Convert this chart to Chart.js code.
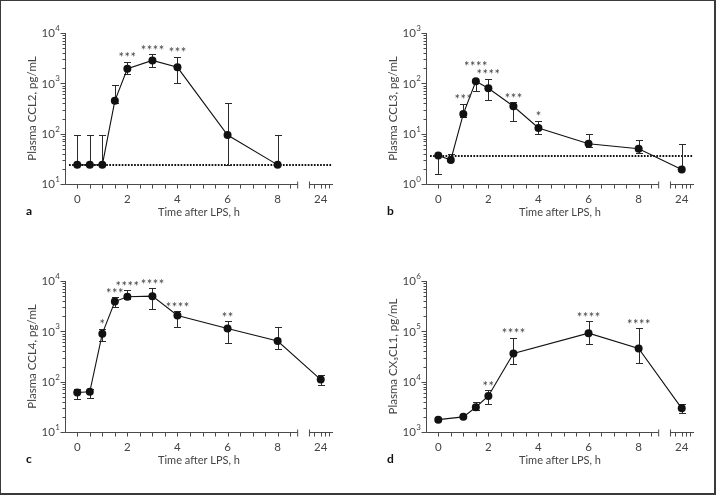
<!DOCTYPE html>
<html>
<head>
<meta charset="utf-8">
<script src="https://cdn.jsdelivr.net/npm/chart.js@4.4.1/dist/chart.umd.min.js"></script>
<style>
  html, body { margin: 0; padding: 0; background: #fff; }
  #fig { position: relative; width: 716px; height: 495px; overflow: hidden; }
  .panel { position: absolute; }
  #frame { position: absolute; left: 0; top: 0; width: 716px; height: 495px; box-sizing: border-box;
           border: 1px solid #3a3a3a; border-right-width: 2px; border-bottom-width: 2px; pointer-events: none; }
</style>
</head>
<body>
<div id="fig">
  <canvas id="panelA" class="panel" width="355" height="247" style="left:0;top:0"></canvas>
  <canvas id="panelB" class="panel" width="355" height="247" style="left:361px;top:0"></canvas>
  <canvas id="panelC" class="panel" width="355" height="247" style="left:0;top:248px"></canvas>
  <canvas id="panelD" class="panel" width="355" height="247" style="left:361px;top:248px"></canvas>
  <div id="frame"></div>
</div>
<script>
// a: CCL2
const timesA = [0, 0.5, 1, 1.5, 2, 3, 4, 6, 8];
const ccl2 = [24, 24, 24, 450, 1950, 2850, 2080, 94, 24];
const ccl2Hi = [95, 95, 95, 910, 2700, 3800, 3400, 400, 95];
const ccl2Lo = [null, null, null, 400, 1550, 2120, 1000, 24, null];
const ccl2Stars = ['', '', '', '', '***', '****', '***', '', ''];
const ccl2Limit = 24;

// b: CCL3
const timesB = [0, 0.5, 1, 1.5, 2, 3, 4, 6, 8, 24];
const ccl3 = [3.67, 3.0, 24.7, 110, 80, 35, 13, 6.3, 5.0, 1.95];
const ccl3Hi = [null, 3.95, 39, null, 122, 42, 18, 10, 7.5, 6.3];
const ccl3Lo = [1.56, null, 21.5, 72, 45.7, 18, 9.9, 5.5, 4.2, null];
const ccl3Stars = ['', '', '***', '****', '****', '***', '*', '', '', ''];
const ccl3Limit = 3.67;

// c: CCL4
const timesC = [0, 0.5, 1, 1.5, 2, 3, 4, 6, 8, 24];
const ccl4 = [61, 63, 900, 3900, 4850, 5000, 2070, 1140, 640, 110];
const ccl4Hi = [73, 73, 1120, 4800, 6600, 7100, 2500, 1580, 1200, 138];
const ccl4Lo = [45.5, 47, 640, 3050, 4300, 2800, 1200, 590, 445, 84];
const ccl4Stars = ['', '', '*', '***', '****', '****', '****', '**', '', ''];

// d: CX3CL1
const timesD = [0, 1, 1.5, 2, 3, 6, 8, 24];
const cx3cl1 = [1760, 2000, 3100, 5200, 36300, 92000, 45700, 2950];
const cx3cl1Hi = [null, null, 3970, 6800, 74500, 160000, 116000, 3670];
const cx3cl1Lo = [null, null, 2750, 3670, 22600, 55000, 24000, 2350];
const cx3cl1Stars = ['', '', '', '**', '****', '****', '****', ''];

const xTickHours = [0, 2, 4, 6, 8, 24];
const xTickLabels = ['0', '2', '4', '6', '8', '24'];

// broken time axis: 0-8 h, then a short segment holding 24 h
const POS_24 = 9.72, BREAK_L = 8.8, BREAK_R = 9.27;
const toAxis = t => (t === 24 ? POS_24 : t);
const X_TICKS = [];
for (let h = 0; h <= 8.5; h += 0.5) X_TICKS.push(h);
X_TICKS.push(POS_24 - 0.26, POS_24, POS_24 + 0.17, POS_24 + 0.34);

const FONT = 'Lato, "Open Sans", sans-serif';
const INK = '#111';
const GREY = '#444';

function labelFor(v) {
  const i = xTickHours.findIndex(h => Math.abs(toAxis(h) - v) < 1e-6);
  return i >= 0 ? xTickLabels[i] : '';
}

const panelAxes = {
  id: 'panelAxes',
  beforeDatasetsDraw(chart, args, o) {
    const { ctx, chartArea: a, scales: { x, y } } = chart;
    ctx.save();
    if (o.limit != null) {
      const ly = Math.round(y.getPixelForValue(o.limit));
      ctx.strokeStyle = INK;
      ctx.lineWidth = 2;
      ctx.setLineDash([1.7, 1.4]);
      ctx.beginPath();
      ctx.moveTo(a.left + 4, ly);
      ctx.lineTo(a.right - 1, ly);
      ctx.stroke();
      ctx.setLineDash([]);
    }
    ctx.strokeStyle = '#2a2a2a';
    ctx.lineWidth = 1;
    o.times.forEach((t, i) => {
      const px = Math.round(x.getPixelForValue(toAxis(t))) + 0.5;
      const py = y.getPixelForValue(o.values[i]);
      [o.hi[i], o.lo[i]].forEach(v => {
        if (v == null) return;
        const ey = Math.round(y.getPixelForValue(v)) + 0.5;
        ctx.beginPath();
        ctx.moveTo(px, py);
        ctx.lineTo(px, ey);
        ctx.moveTo(px - 3.5, ey);
        ctx.lineTo(px + 3.5, ey);
        ctx.stroke();
      });
    });
    ctx.restore();
  },
  afterDraw(chart, args, o) {
    const { ctx, chartArea: a, scales: { x, y } } = chart;
    ctx.save();
    ctx.strokeStyle = '#4a4a4a';
    ctx.lineWidth = 1;
    const ax = Math.round(a.left) + 0.5;
    const ay = Math.round(a.bottom) + 0.5;
    const xl = x.getPixelForValue(BREAK_L), xr = x.getPixelForValue(BREAK_R);
    ctx.beginPath();
    // y axis
    ctx.moveTo(ax, a.top);
    ctx.lineTo(ax, ay);
    // x axis with break
    ctx.moveTo(ax, ay);
    ctx.lineTo(xl, ay);
    ctx.moveTo(xl, ay - 3);
    ctx.lineTo(xl, ay + 4);
    ctx.moveTo(xr, ay - 3);
    ctx.lineTo(xr, ay + 4);
    ctx.moveTo(xr, ay);
    ctx.lineTo(a.right, ay);
    x.ticks.forEach(t => {
      const px = Math.round(x.getPixelForValue(t.value)) + 0.5;
      ctx.moveTo(px, ay);
      ctx.lineTo(px, ay + 4);
    });
    y.ticks.forEach(t => {
      const py = Math.round(y.getPixelForValue(t.value)) + 0.5;
      const major = Math.abs(Math.log10(t.value) % 1) < 1e-6;
      ctx.moveTo(ax, py);
      ctx.lineTo(ax - (major ? 5 : 3), py);
    });
    ctx.stroke();

    // decade labels 10^n
    ctx.fillStyle = GREY;
    ctx.textBaseline = 'middle';
    ctx.textAlign = 'right';
    for (let e = Math.round(Math.log10(y.min)); e <= Math.round(Math.log10(y.max)); e++) {
      const py = y.getPixelForValue(10 ** e);
      ctx.font = '8px ' + FONT;
      const ew = ctx.measureText(String(e)).width;
      ctx.fillText(String(e), a.left - 5, py - 4.5);
      ctx.font = '11.5px ' + FONT;
      ctx.fillText('10', a.left - 5.5 - ew, py + 0.5);
    }

    // significance stars
    ctx.font = '13px ' + FONT;
    ctx.textAlign = 'center';
    ctx.textBaseline = 'alphabetic';
    o.stars.forEach((s, i) => {
      if (!s) return;
      const px = x.getPixelForValue(toAxis(o.times[i]));
      let top = y.getPixelForValue(o.values[i]) - 4;
      if (o.hi[i] != null) top = Math.min(top, y.getPixelForValue(o.hi[i]));
      const cy = top - 7 - ((o.starLift && o.starLift[i]) || 0);
      for (let k = 0; k < s.length; k++) {
        ctx.fillText('*', px + (k - (s.length - 1) / 2) * 6, cy + 7.5);
      }
    });

    // panel letter
    ctx.fillStyle = '#111';
    ctx.font = 'bold 12px ' + FONT;
    ctx.textAlign = 'left';
    ctx.fillText(o.letter, 26, 215);
    ctx.restore();
  }
};

function drawPanel(id, p) {
  const pts = p.times.map((t, i) => ({ x: toAxis(t), y: p.values[i] }));
  return new Chart(document.getElementById(id), {
    type: 'line',
    data: {
      datasets: [{
        data: pts,
        borderColor: INK,
        borderWidth: 1.1,
        pointRadius: 4,
        pointBackgroundColor: INK,
        pointBorderWidth: 0,
        tension: 0,
        clip: false
      }]
    },
    options: {
      responsive: false,
      animation: false,
      layout: { padding: { left: 0, top: 33, right: 22, bottom: 20 } },
      plugins: {
        legend: { display: false },
        tooltip: { enabled: false },
        panelAxes: p
      },
      scales: {
        x: {
          type: 'linear',
          min: -0.49,
          max: 10.21,
          afterFit: s => { s.height = 43; },
          afterBuildTicks: s => { s.ticks = X_TICKS.map(v => ({ value: v })); },
          grid: { display: false, drawTicks: true, tickLength: 3 },
          border: { display: false },
          ticks: {
            autoSkip: false, maxRotation: 0, padding: 5, color: GREY,
            font: { family: FONT, size: 11.5 },
            callback: v => labelFor(v)
          },
          title: {
            display: true, text: 'Time after LPS, h', color: GREY,
            font: { family: FONT, size: 11 }, padding: { top: 0, bottom: 8.4 }
          }
        },
        y: {
          type: 'logarithmic',
          min: p.yMin,
          max: p.yMax,
          afterFit: s => { s.width = 65; },
          afterBuildTicks: s => {
            const t = [];
            for (let e = Math.round(Math.log10(p.yMin)); e < Math.round(Math.log10(p.yMax)); e++) {
              for (let m = 1; m < 10; m++) t.push({ value: m * 10 ** e });
            }
            t.push({ value: p.yMax });
            s.ticks = t;
          },
          grid: { display: false },
          border: { display: false },
          ticks: { display: false },
          title: {
            display: true, text: p.yTitle, color: GREY,
            font: { family: FONT, size: 11.5 }, padding: { top: 25, bottom: 0 }
          }
        }
      }
    },
    plugins: [panelAxes]
  });
}

drawPanel('panelA', { letter: 'a', yTitle: 'Plasma CCL2, pg/mL', yMin: 10, yMax: 1e4,
  times: timesA, values: ccl2, hi: ccl2Hi, lo: ccl2Lo, stars: ccl2Stars, limit: ccl2Limit });
drawPanel('panelB', { letter: 'b', yTitle: 'Plasma CCL3, pg/mL', yMin: 1, yMax: 1e3,
  times: timesB, values: ccl3, hi: ccl3Hi, lo: ccl3Lo, stars: ccl3Stars, limit: ccl3Limit,
  starLift: [0, 0, 0, 7, 0, 0, 0, 0, 0, 0] });
drawPanel('panelC', { letter: 'c', yTitle: 'Plasma CCL4, pg/mL', yMin: 10, yMax: 1e4,
  times: timesC, values: ccl4, hi: ccl4Hi, lo: ccl4Lo, stars: ccl4Stars, limit: null });
drawPanel('panelD', { letter: 'd', yTitle: 'Plasma CX₃CL1, pg/mL', yMin: 1e3, yMax: 1e6,
  times: timesD, values: cx3cl1, hi: cx3cl1Hi, lo: cx3cl1Lo, stars: cx3cl1Stars, limit: null });
</script>
</body>
</html>
